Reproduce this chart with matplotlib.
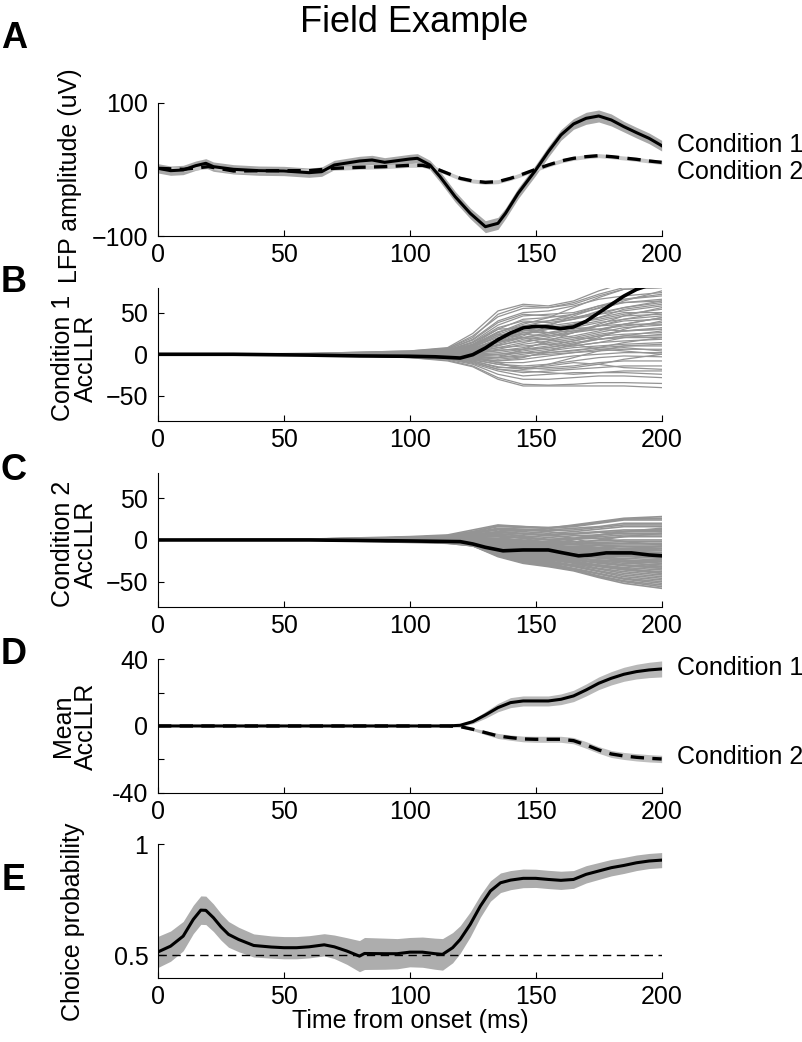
import matplotlib
matplotlib.use('Agg')
import matplotlib.pyplot as plt

plt.rcParams['font.family'] = ['Liberation Sans', 'DejaVu Sans']
plt.rcParams['font.size'] = 18

# ---- panel A: LFP amplitude ----
a_t1 = [0, 5, 10, 15, 19, 22, 30, 40, 50, 60, 65, 70, 80, 85, 90, 95, 100, 103, 108, 112,
        118, 124, 130, 135, 138, 143, 150, 155, 160, 165, 170, 175, 180, 185, 190, 195, 200]
a_cond1 = [1.5, -2, -1, 5.5, 9, 4, 0, -2, -2.5, -5, -3.5, 6.5, 12.5, 14, 10.5, 13, 15.5, 16.5, 6.5, -11,
           -41, -66, -86, -81, -66, -36, -1, 26.5, 51.5, 68, 76.5, 80, 74, 64, 55, 46.5, 35.5]
a_sem1 = [7, 7, 7, 7, 7, 7, 7, 7, 7, 7, 7, 7, 7, 7, 7, 7, 7, 7, 7, 8,
          8, 8, 9, 9, 8, 8, 8, 8, 8, 8, 9, 9, 9, 8, 8, 8, 8]
a_t2 = [0, 10, 20, 30, 50, 60, 70, 80, 90, 100, 105, 110, 115, 120, 125, 130, 135, 140, 145, 150,
        155, 160, 165, 170, 175, 180, 185, 190, 195, 200]
a_cond2 = [1.5, 0, 4, -2.5, -2, -2, 1.5, 3, 4, 6, 6, 1.5, -6, -13.5, -17.5, -19.5, -18.5, -13.5, -7, 0,
           6.5, 12.5, 16.5, 19, 20.5, 19, 17, 15, 12.5, 10.5]
a_sem2 = [3] * 30

# ---- panels B and C: single-trial AccLLR traces, values at knot times ----
knots = [0, 60, 100, 115, 125, 135, 145, 155, 165, 175, 185, 200]
b_traces = [
    [0, 1, 4, 8, 25, 52, 60, 58, 64, 76, 85, 90],
    [0, 1, 3, 7, 22, 45, 55, 56, 62, 72, 80, 82],
    [0, 0, 3, 6, 18, 40, 50, 52, 58, 66, 70, 74],
    [0, 0, 2, 5, 15, 35, 46, 48, 50, 58, 66, 70],
    [0, 0, 2, 4, 12, 30, 42, 44, 48, 55, 62, 66],
    [0, 0, 1, 3, 10, 26, 38, 40, 44, 50, 56, 62],
    [0, 0, 1, 3, 8, 22, 32, 36, 42, 48, 52, 58],
    [0, 0, 1, 2, 6, 18, 28, 34, 38, 42, 48, 54],
    [0, 0, 1, 2, 5, 15, 24, 30, 36, 44, 50, 50],
    [0, 0, 0, 1, 4, 12, 20, 26, 32, 38, 42, 46],
    [0, 0, 0, 1, 3, 10, 18, 22, 28, 34, 40, 42],
    [0, 0, 0, 1, 2, 8, 14, 20, 26, 30, 34, 38],
    [0, 0, 0, 0, 2, 6, 12, 16, 20, 26, 32, 35],
    [0, 0, 0, 0, 1, 4, 8, 14, 18, 24, 28, 30],
    [0, 0, -1, 0, 0, 2, 6, 10, 16, 22, 24, 26],
    [0, 0, -1, -1, 0, 0, 4, 8, 12, 18, 22, 22],
    [0, 0, -1, -1, -1, -2, 2, 6, 10, 14, 16, 18],
    [0, 0, -1, -2, -2, -4, 0, 4, 8, 10, 12, 14],
    [0, 0, -1, -2, -3, -6, -3, 2, 5, 8, 10, 10],
    [0, 0, -2, -3, -4, -8, -6, -2, 2, 4, 6, 6],
    [0, 0, -2, -3, -5, -10, -10, -6, -2, 0, 2, 2],
    [0, 0, -2, -4, -7, -12, -14, -12, -8, -4, -2, -3],
    [0, 0, -2, -4, -8, -15, -18, -16, -14, -10, -8, -8],
    [0, 0, -3, -5, -10, -18, -22, -20, -18, -16, -14, -14],
    [0, 0, -3, -5, -11, -20, -26, -24, -22, -22, -20, -20],
    [0, 0, -3, -6, -12, -24, -30, -30, -28, -26, -26, -28],
    [0, 0, -4, -7, -14, -28, -36, -37, -36, -34, -34, -35],
    [0, 0, -4, -8, -15, -30, -38, -38, -38, -38, -38, -40],
    [0, 0, 2, 4, 14, 30, 32, 26, 20, 18, 22, 28],
    [0, 0, 1, 3, 10, 24, 20, 12, 10, 14, 20, 24],
    [0, 0, -1, -2, -5, -4, 6, 16, 26, 36, 46, 56],
    [0, 0, 0, 2, 6, 14, 22, 34, 46, 56, 66, 72],
    [0, 0, 1, 3, 8, 16, 20, 18, 12, 6, 4, 0],
    [0, 0, -2, -3, -6, -8, -4, 4, 12, 20, 30, 40],
    [0, 0, 2, 4, 12, 26, 36, 44, 56, 68, 78, 80],
    [0, 0, 0, -1, -3, -10, -18, -12, -4, 4, 10, 12],
    [0, 1, 4, 7, 20, 48, 58, 56, 60, 70, 78, 80],
    [0, 0, 3, 6, 17, 38, 48, 46, 44, 48, 56, 64],
    [0, 0, 2, 5, 14, 32, 40, 38, 42, 52, 64, 76],
    [0, 0, 2, 4, 11, 27, 34, 32, 36, 44, 54, 60],
    [0, 0, 1, 3, 9, 22, 28, 30, 34, 40, 46, 48],
    [0, 0, 1, 2, 7, 18, 26, 26, 28, 30, 36, 44],
    [0, 0, 1, 2, 5, 14, 20, 24, 30, 34, 36, 36],
    [0, 0, 0, 1, 4, 11, 16, 18, 22, 28, 36, 44],
    [0, 0, 0, 1, 3, 8, 10, 12, 16, 22, 28, 32],
    [0, 0, 0, 0, 1, 5, 6, 8, 14, 18, 20, 20],
    [0, 0, -1, -1, -1, 0, 2, 2, 4, 8, 14, 20],
    [0, 0, -1, -2, -3, -4, -2, 0, 2, 6, 8, 4],
    [0, 0, -2, -3, -6, -12, -16, -18, -16, -12, -6, 0],
    [0, 0, -2, -4, -8, -16, -16, -14, -10, -12, -16, -18],
    [0, 0, -3, -5, -9, -18, -20, -22, -24, -22, -22, -24],
    [0, 0, 2, 3, 10, 24, 34, 40, 48, 58, 62, 64],
    [0, 0, 1, 3, 9, 20, 24, 22, 26, 34, 42, 50],
    [0, 0, 0, 2, 6, 16, 26, 30, 32, 30, 28, 30],
]
b_t = [0, 30, 60, 80, 100, 110, 120, 125, 130, 135, 140, 145, 150, 155, 160, 165, 170, 175,
       180, 185, 190, 195, 200]
b_trial = [0, 0, -1, -2, -2.4, -3, -4.5, -0.5, 7.5, 17.5, 25.5, 31.6, 33.6, 32.8, 30.8, 32.8,
           39.6, 49.7, 59.7, 69.8, 77.8, 83, 88]

c_traces = [
    [0, 1, 4, 6, 12, 18, 16, 14, 18, 22, 26, 28],
    [0, 1, 3, 5, 10, 16, 15, 14, 16, 20, 24, 24],
    [0, 1, 3, 5, 9, 14, 13, 12, 14, 16, 20, 20],
    [0, 0, 3, 4, 8, 12, 10, 8, 10, 13, 16, 16],
    [0, 0, 2, 4, 7, 10, 8, 6, 8, 10, 12, 12],
    [0, 0, 2, 3, 5, 7, 5, 3, 5, 6, 8, 8],
    [0, 0, 2, 3, 4, 4, 2, 0, 1, 2, 4, 4],
    [0, 0, 1, 2, 3, 2, 0, -2, -2, -1, 0, 0],
    [0, 0, 1, 2, 2, 0, -2, -4, -5, -4, -4, -4],
    [0, 0, 1, 1, 1, -2, -4, -6, -8, -7, -8, -8],
    [0, 0, 1, 1, 0, -4, -6, -8, -10, -10, -11, -12],
    [0, 0, 0, 0, -1, -6, -8, -10, -12, -13, -14, -15],
    [0, 0, 0, 0, -2, -8, -10, -12, -14, -16, -17, -18],
    [0, 0, 0, -1, -3, -10, -12, -14, -17, -19, -20, -22],
    [0, 0, 0, -1, -3, -11, -14, -16, -19, -22, -24, -26],
    [0, 0, -1, -1, -4, -12, -16, -18, -22, -25, -28, -30],
    [0, 0, -1, -2, -4, -13, -18, -20, -24, -28, -31, -34],
    [0, 0, -1, -2, -5, -14, -20, -22, -26, -31, -35, -38],
    [0, 0, -1, -2, -5, -15, -21, -24, -28, -34, -38, -42],
    [0, 0, -2, -3, -6, -16, -22, -26, -31, -37, -42, -46],
    [0, 0, -2, -3, -6, -17, -24, -28, -34, -40, -46, -50],
    [0, 0, -2, -3, -7, -18, -26, -30, -36, -43, -49, -54],
    [0, 0, -3, -4, -7, -20, -28, -32, -37, -45, -52, -58],
    [0, 0, 2, 4, 8, 6, 2, -4, -10, -14, -18, -22],
    [0, 0, -1, -2, -4, -12, -10, -6, -4, 0, 4, 8],
    [0, 0, 1, 2, 4, 4, -2, -8, -14, -20, -26, -32],
    [0, 0, -1, -2, -5, -14, -14, -10, -12, -18, -24, -28],
    [0, 0, 0, 1, 2, -2, -6, -4, 0, 6, 10, 14],
    [0, 0, -2, -3, -6, -16, -24, -28, -30, -30, -34, -40],
    [0, 0, 1, 2, 3, 6, 8, 6, 2, -6, -12, -16],
    [0, 0, -1, -1, -2, -6, -12, -18, -22, -24, -26, -24],
    [0, 0, 0, 0, -1, -4, -6, -8, -8, -6, -8, -10],
    [0, 1, 3, 5, 10, 17, 16, 15, 17, 21, 25, 26],
    [0, 0, 3, 4, 8, 13, 12, 11, 12, 15, 18, 18],
    [0, 0, 2, 3, 6, 9, 7, 5, 7, 9, 10, 10],
    [0, 0, 2, 3, 4, 5, 3, 1, 2, 4, 6, 6],
    [0, 0, 1, 2, 3, 1, -1, -3, -4, -3, -2, -2],
    [0, 0, 1, 1, 1, -1, -3, -5, -6, -6, -6, -6],
    [0, 0, 1, 1, 0, -3, -5, -7, -9, -9, -10, -10],
    [0, 0, 0, 0, -1, -5, -7, -9, -11, -12, -13, -13],
    [0, 0, 0, 0, -2, -7, -9, -11, -13, -15, -16, -17],
    [0, 0, 0, -1, -2, -9, -11, -13, -16, -18, -19, -20],
    [0, 0, 0, -1, -3, -10, -13, -15, -18, -21, -22, -24],
    [0, 0, -1, -1, -3, -12, -15, -17, -21, -24, -26, -28],
    [0, 0, -1, -2, -4, -13, -17, -19, -23, -27, -30, -32],
    [0, 0, -1, -2, -5, -14, -19, -21, -25, -30, -33, -36],
    [0, 0, -1, -2, -5, -15, -20, -23, -27, -32, -36, -40],
    [0, 0, -2, -3, -6, -16, -21, -25, -30, -35, -40, -44],
    [0, 0, -2, -3, -6, -17, -23, -27, -32, -38, -44, -48],
    [0, 0, -2, -3, -7, -18, -25, -29, -35, -41, -47, -52],
    [0, 0, -2, -4, -7, -19, -27, -31, -36, -44, -50, -56],
    [0, 0, 2, 3, 6, 8, 4, 0, -4, -10, -14, -18],
    [0, 0, 1, 2, 3, 0, -8, -14, -20, -26, -30, -34],
    [0, 0, -1, -2, -4, -10, -8, -2, 2, 6, 10, 12],
    [0, 0, 1, 2, 4, 10, 12, 10, 6, 2, -2, -6],
    [0, 0, -1, -2, -5, -16, -22, -20, -16, -12, -14, -18],
]
c_t = [0, 60, 100, 120, 125, 130, 137, 145, 155, 160, 167, 172, 178, 188, 195, 200]
c_trial = [0, 0, -1.2, -2, -4.8, -8.8, -13, -12, -12, -15, -19, -18, -15.5, -15.5, -18, -19]

# ---- panel D: mean AccLLR ----
d_t = [0, 50, 100, 115, 120, 125, 130, 135, 140, 145, 150, 155, 160, 165, 170, 175, 180, 185,
       190, 195, 200]
d_cond1 = [0, 0, 0, 0, 0.4, 2.6, 6.6, 11, 14, 15, 15, 15, 16, 18, 21.6, 25.6, 28.6, 31, 32.6,
           33.6, 34.2]
d_sem1 = [0.3, 0.3, 0.3, 0.4, 0.6, 1.2, 2, 2.5, 3, 3, 3, 3, 3.2, 3.4, 3.6, 3.8, 4, 4.2, 4.4,
          4.6, 4.8]
d_cond2 = [0, 0, 0, 0, -0.4, -2, -4, -6, -7, -7.8, -8, -8, -8, -8.8, -11.4, -14.4, -16.8, -18,
           -18.8, -19.4, -19.8]
d_sem2 = [0.3, 0.3, 0.3, 0.3, 0.4, 0.8, 1.2, 1.5, 1.6, 1.7, 1.8, 1.8, 1.8, 1.9, 2, 2, 2.1, 2.1,
          2.2, 2.2, 2.2]

# ---- panel E: choice probability ----
e_t = [0, 5, 10, 14, 17, 19, 22, 25, 28, 32, 38, 45, 50, 55, 60, 66, 70, 75, 80, 82,
       90, 95, 100, 105, 110, 113, 117, 120, 124, 128, 132, 136, 140, 145, 150, 155, 160, 165,
       170, 175, 180, 185, 190, 195, 200]
e_cp = [0.516, 0.542, 0.587, 0.662, 0.704, 0.703, 0.670, 0.629, 0.595, 0.572,
        0.545, 0.538, 0.535, 0.535, 0.539, 0.548, 0.539, 0.520, 0.497, 0.509,
        0.508, 0.508, 0.515, 0.515, 0.508, 0.505, 0.535, 0.572, 0.640, 0.722,
        0.790, 0.827, 0.839, 0.847, 0.847, 0.842, 0.838, 0.842, 0.865, 0.880,
        0.895, 0.905, 0.917, 0.925, 0.929]
e_sem = [0.070, 0.068, 0.066, 0.064, 0.064, 0.064, 0.062, 0.060, 0.058, 0.055,
         0.052, 0.050, 0.050, 0.050, 0.050, 0.050, 0.053, 0.060, 0.070, 0.072,
         0.070, 0.068, 0.066, 0.068, 0.070, 0.071, 0.068, 0.062, 0.056, 0.050,
         0.046, 0.044, 0.043, 0.042, 0.041, 0.041, 0.041, 0.040, 0.039, 0.038,
         0.037, 0.036, 0.035, 0.034, 0.034]

xticks = [0, 50, 100, 150, 200]


def band(ax, t, m, s, color):
    lo = [a - b for a, b in zip(m, s)]
    hi = [a + b for a, b in zip(m, s)]
    ax.fill_between(t, lo, hi, color=color, lw=0)


def style(ax):
    for sp in ['top', 'right']:
        ax.spines[sp].set_visible(False)
    for sp in ['left', 'bottom']:
        ax.spines[sp].set_linewidth(0.8)
    ax.tick_params(direction='in', length=4, width=0.8, labelsize=18)
    ax.tick_params(axis='y', pad=7)
    ax.tick_params(axis='x', pad=5)
    ax.set_xlim(0, 200)
    ax.set_xticks(xticks)


fig = plt.figure(figsize=(8.02, 10.42), dpi=100)
L, W, H = 0.197, 0.628, 0.128
axA = fig.add_axes([L, 0.7735, W, H])
axB = fig.add_axes([L, 0.596, W, H])
axC = fig.add_axes([L, 0.4178, W, H])
axD = fig.add_axes([L, 0.2393, W, H])
axE = fig.add_axes([L, 0.0617, W, H])

# A
band(axA, a_t1, a_cond1, a_sem1, '0.66')
band(axA, a_t2, a_cond2, a_sem2, '0.78')
axA.plot(a_t1, a_cond1, color='k', lw=2.2)
axA.plot(a_t2, a_cond2, color='k', lw=2.4, dashes=(4, 2.5))
axA.set_ylim(-100, 100)
axA.set_yticks([-100, 0, 100])
axA.set_ylabel('LFP amplitude (uV)')
axA.yaxis.set_label_coords(-0.15, 0.45)
axA.text(206, 36.5, 'Condition 1', va='center', ha='left', fontsize=18, clip_on=False)
axA.text(206, -4, 'Condition 2', va='center', ha='left', fontsize=18, clip_on=False)

# B
for tr in b_traces:
    axB.plot(knots, tr, color='0.58', lw=0.9)
axB.plot(b_t, b_trial, color='k', lw=2.6)
axB.set_ylim(-80, 80)
axB.set_yticks([-50, 0, 50])
axB.set_ylabel('Condition 1\nAccLLR', linespacing=0.95)
axB.yaxis.set_label_coords(-0.12, 0.47)

# C
for tr in c_traces:
    axC.plot(knots, tr, color='0.58', lw=1.2)
axC.plot(c_t, c_trial, color='k', lw=2.6)
axC.set_ylim(-80, 80)
axC.set_yticks([-50, 0, 50])
axC.set_ylabel('Condition 2\nAccLLR', linespacing=0.95)
axC.yaxis.set_label_coords(-0.12, 0.47)

# D
band(axD, d_t, d_cond1, d_sem1, '0.72')
band(axD, d_t, d_cond2, d_sem2, '0.75')
axD.plot(d_t, d_cond2, color='k', lw=2.4, dashes=(4, 2.5))
axD.plot(d_t, d_cond1, color='k', lw=2.2)
axD.set_ylim(-40, 40)
axD.set_yticks([-40, -20, 0, 20, 40])
axD.set_yticklabels(['-40', '', '0', '', '40'])
axD.set_ylabel('Mean\nAccLLR', linespacing=0.95)
axD.yaxis.set_label_coords(-0.12, 0.5)
axD.text(206, 34.6, 'Condition 1', va='center', ha='left', fontsize=18, clip_on=False)
axD.text(206, -18.6, 'Condition 2', va='center', ha='left', fontsize=18, clip_on=False)

# E
band(axE, e_t, e_cp, e_sem, '0.68')
axE.plot([0, 200], [0.5, 0.5], color='k', lw=1.0, dashes=(6, 4))
axE.plot(e_t, e_cp, color='k', lw=2.2)
axE.set_ylim(0.4, 1)
axE.set_yticks([0.5, 1])
axE.set_yticklabels(['0.5', '1'])
axE.set_ylabel('Choice probability')
axE.yaxis.set_label_coords(-0.145, 0.42)
axE.set_xlabel('Time from onset (ms)', labelpad=0)

for ax in [axA, axB, axC, axD, axE]:
    style(ax)

fig.text(0.516, 1 - 22 / 1042, 'Field Example', ha='center', va='center', fontsize=26)
for letter, ypix in zip('ABCDE', [38, 283, 470, 655, 880]):
    fig.text(14 / 802, 1 - ypix / 1042, letter, ha='center', va='center',
             fontsize=26, fontweight='bold')

fig.savefig('out.png', dpi=100)
